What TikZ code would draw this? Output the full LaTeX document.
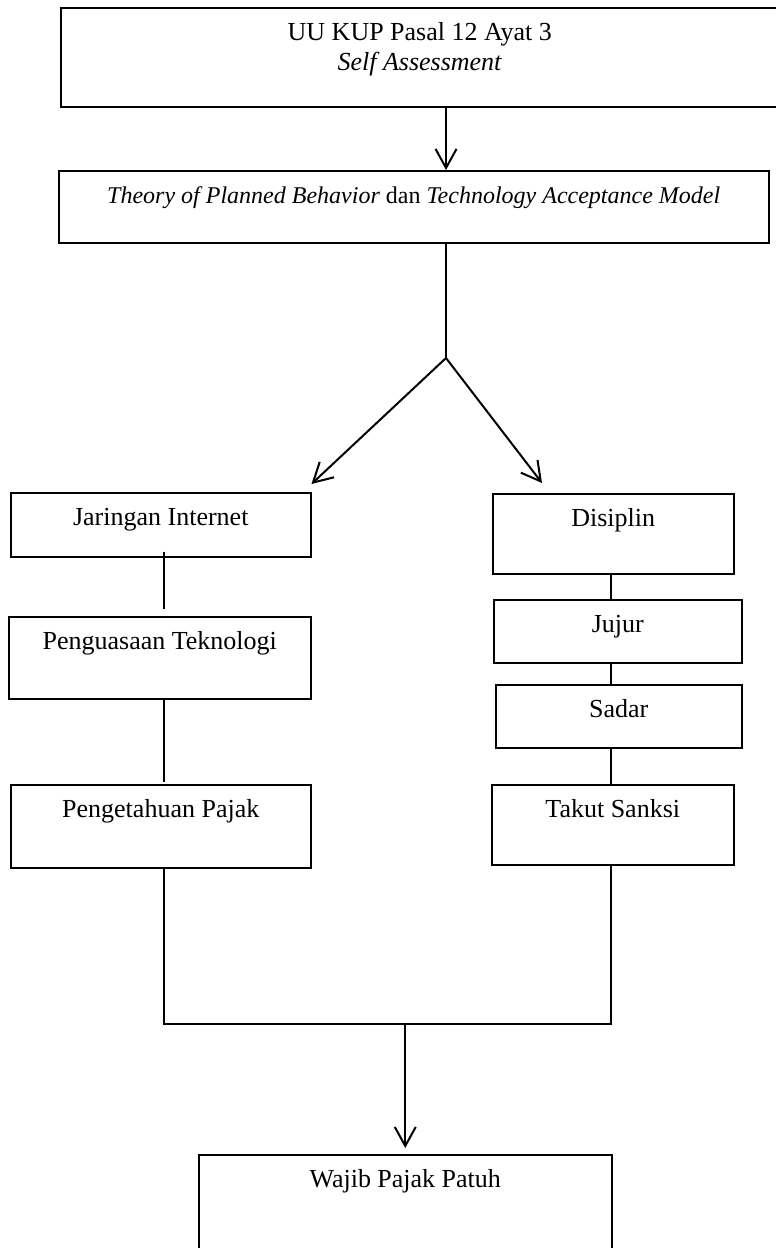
\documentclass[tikz,border=0pt]{standalone}
\usepackage{fontspec}
\setmainfont{Liberation Serif}
\usetikzlibrary{calc,positioning,arrows.meta}
\tikzset{
mybox/.style={
  draw,
  line width=1.5pt,
  anchor=north west,
  inner sep=0pt,
  align=center,
  text height=33pt,
  font=\fontsize{26}{30}\selectfont
  },
myline/.style={line width=2pt},
myarrow/.style={
  myline,
  ->
  }
}

\begin{document}
\begin{tikzpicture}[x=1pt,y=-1pt,>={Straight Barb[length=19pt,width=21pt]}]
            \useasboundingbox (0,0) rectangle (776,1248);
            \node[mybox,minimum width=718pt,minimum height=99pt,text height=63pt,text depth=36pt] (uukup) at (60,7)
                {UU KUP Pasal 12 Ayat 3\\\textit{Self Assessment}};
            \node[mybox,minimum width=710pt,minimum height=72pt,text depth=39pt,font=\fontsize{24}{30}\selectfont] (teori) at (58,170)
                {\textit{Theory of Planned Behavior} dan \textit{Technology Acceptance Model}};
            % kiri
            \node[mybox,minimum width=300pt,minimum height=64pt,text depth=31pt] (jaringan) at (10,492) {Jaringan Internet};
            \node[mybox,minimum width=302pt,minimum height=82pt,text depth=49pt] (penguasaan) at (8,616) {Penguasaan Teknologi};
            \node[mybox,minimum width=300pt,minimum height=83pt,text depth=50pt] (pengetahuan) at (10,784) {Pengetahuan Pajak};
            % kanan
            \node[mybox,minimum width=241pt,minimum height=80pt,text depth=47pt] (disiplin) at (492,493) {Disiplin};
            \node[mybox,minimum width=248pt,minimum height=63pt,text depth=30pt] (jujur) at (493,599) {Jujur};
            \node[mybox,minimum width=246pt,minimum height=63pt,text depth=30pt] (sadar) at (495,684) {Sadar};
            \node[mybox,minimum width=242pt,minimum height=80pt,text depth=47pt] (takut) at (491,784) {Takut Sanksi};
            \node[mybox,minimum width=413pt,minimum height=100pt,text depth=67pt] (patuh) at (198,1154) {Wajib Pajak Patuh};

            \coordinate (cabang) at (446,358);
            \coordinate (kiri) at (164,1024);
            \coordinate (kanan) at (611,1024);

            \draw[myarrow] (uukup.south -| cabang) -- (teori.north -| cabang);
            \draw[myline] (teori.south -| cabang) -- (cabang);
            \draw[myarrow] (cabang) -- ($(jaringan.north east)+(0,-8)$);
            \draw[myarrow] (cabang) -- ($(disiplin.north west)+(50,-10)$);

            \draw[myline] ([yshift=6pt]jaringan.south -| kiri) -- ([yshift=7pt]penguasaan.north -| kiri);
            \draw[myline] (penguasaan.south -| kiri) -- ([yshift=2pt]pengetahuan.north -| kiri);
            \draw[myline] (disiplin.south -| kanan) -- (jujur.north -| kanan);
            \draw[myline] (jujur.south -| kanan) -- (sadar.north -| kanan);
            \draw[myline] ([yshift=1pt]sadar.south -| kanan) -- (takut.north -| kanan);

            \draw[myline] (pengetahuan.south -| kiri) -- (kiri) -- (kanan) -- (takut.south -| kanan);
            \draw[myarrow] (kiri -| patuh) -- ([yshift=6pt]patuh.north);
        \end{tikzpicture}
\end{document}
